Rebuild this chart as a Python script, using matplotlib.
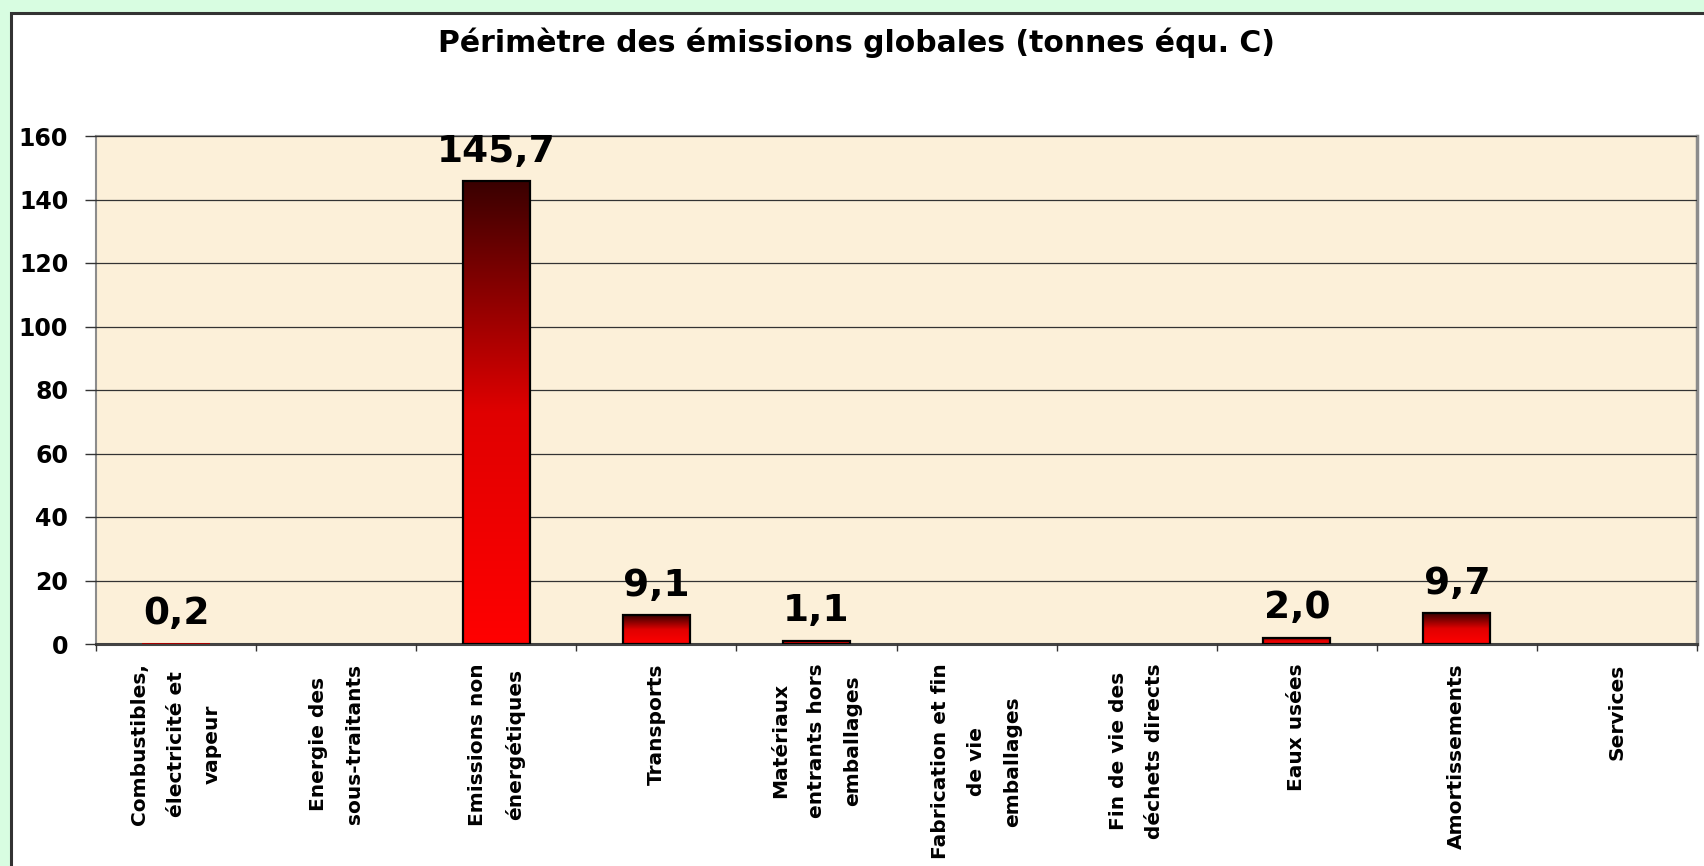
import numpy as np
import matplotlib
matplotlib.use('Agg')
import matplotlib.pyplot as plt
from matplotlib.colors import LinearSegmentedColormap
from matplotlib.patches import Rectangle

# data (tonnes equ. C)
categories = ['Combustibles,\nélectricité et\nvapeur',
              'Energie des\nsous-traitants',
              'Emissions non\nénergétiques',
              'Transports',
              'Matériaux\nentrants hors\nemballages',
              'Fabrication et fin\nde vie\nemballages',
              'Fin de vie des\ndéchets directs',
              'Eaux usées',
              'Amortissements',
              'Services']
values = [0.2, None, 145.7, 9.1, 1.1, None, None, 2.0, 9.7, None]
yticks = [0, 20, 40, 60, 80, 100, 120, 140, 160]
title = 'Périmètre des émissions globales (tonnes équ. C)'

fig = plt.figure(figsize=(17.04, 8.66), dpi=100)
fig.patch.set_facecolor('#d8fde1')

# white panel with dark border (runs off right / bottom)
panel = Rectangle((11/1704., -0.05), 1.2, 1 - 13/866. + 0.05, transform=fig.transFigure,
                  facecolor='white', edgecolor='#333333', lw=2.2, zorder=-5)
fig.patches.append(panel)

ax = fig.add_axes([96/1704., 1 - 644/866., (1697-96)/1704., (644-136)/866.])
ax.set_facecolor('#fcf0d9')

x = np.arange(len(categories))
vals = [v if v is not None else 0 for v in values]
red_cm = LinearSegmentedColormap.from_list('rd', ['#ff0000', '#e00000', '#3a0000'])
grad = np.linspace(0, 1, 256).reshape(-1, 1)

bars = ax.bar(x, vals, width=0.42, facecolor='none', edgecolor='black', lw=1.6, zorder=4)
for b, v in zip(bars, values):
    if v is None:
        b.set_visible(False)
        continue
    if v < 0.5:
        # too thin to show in the original
        b.set_edgecolor('none')
    ax.imshow(grad, extent=[b.get_x(), b.get_x() + b.get_width(), 0, v],
              cmap=red_cm, aspect='auto', origin='lower', zorder=3)
    ax.annotate(('%.1f' % v).replace('.', ','), (b.get_x() + b.get_width()/2, v),
                xytext=(0, 14), textcoords='offset points', ha='center', va='baseline',
                fontsize=27, fontweight='bold', color='black', zorder=5)

ax.set_xlim(-0.5, len(categories) - 0.5)
ax.set_ylim(0, 160)

ax.set_yticks(yticks)
ax.set_yticklabels([str(t) for t in yticks], fontsize=17, fontweight='bold')
ax.yaxis.grid(True, color='#333333', lw=0.9)
ax.set_axisbelow(False)
for gl in ax.get_ygridlines():
    gl.set_zorder(2)
ax.tick_params(axis='y', direction='out', length=8, width=1, color='#333333', pad=12)

ax.set_xticks(np.arange(len(categories) + 1) - 0.5)
ax.set_xticklabels([])
ax.tick_params(axis='x', which='major', direction='out', length=5, width=1, color='#333333')
ax.set_xticks(x, minor=True)
ax.set_xticklabels(categories, minor=True, rotation=90, ha='center', va='top',
                   multialignment='center', linespacing=2.15, fontsize=14.5,
                   fontweight='bold')
ax.tick_params(axis='x', which='minor', length=0, pad=14)

for s in ['left', 'top', 'right']:
    ax.spines[s].set_color('#8c8c8c')
    ax.spines[s].set_linewidth(1.5)
ax.spines['right'].set_linewidth(2.5)
ax.spines['bottom'].set_color('#444444')
ax.spines['bottom'].set_linewidth(2.2)

fig.text(857/1704., 1 - 43/866., title, ha='center', va='center',
         fontsize=21.5, fontweight='bold')

plt.savefig('out.png', dpi=100, facecolor=fig.get_facecolor())
